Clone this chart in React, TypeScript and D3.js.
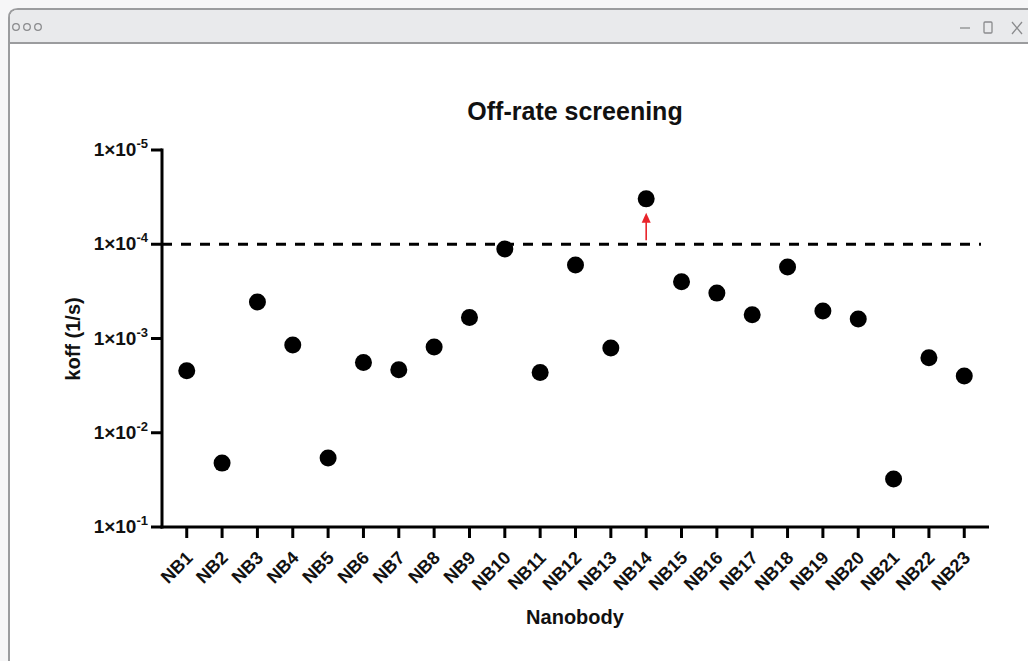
import React from "react";
import * as d3 from "d3";

const categories = ["NB1","NB2","NB3","NB4","NB5","NB6","NB7","NB8","NB9","NB10","NB11","NB12","NB13","NB14","NB15","NB16","NB17","NB18","NB19","NB20","NB21","NB22","NB23"];
const koffValues = [2.2e-3, 2.1e-2, 4.1e-4, 1.17e-3, 1.85e-2, 1.8e-3, 2.15e-3, 1.23e-3, 6.0e-4, 1.12e-4, 2.3e-3, 1.66e-4, 1.26e-3, 3.3e-5, 2.5e-4, 3.3e-4, 5.6e-4, 1.74e-4, 5.1e-4, 6.2e-4, 3.1e-2, 1.6e-3, 2.5e-3];
const yTickExps = [-5, -4, -3, -2, -1];
const thresholdValue = 1e-4;
const highlighted = "NB14";

const FONT = "'Liberation Sans', Arial, Helvetica, sans-serif";

export default function App() {
  const W = 1028, H = 661;
  const left = 162, right = 989, top = 150, bottom = 527;
  const x = d3.scalePoint<string>().domain(categories).range([left, right]).padding(0.7);
  const y = d3.scaleLog().domain([1e-5, 1e-1]).range([top, bottom]);
  const hx = x(highlighted)!;
  const hy = y(koffValues[categories.indexOf(highlighted)]);

  return (
    <svg width={W} height={H} style={{ position: "absolute", left: 0, top: 0, background: "#fff" }}>
      {/* window chrome */}
      <rect x={0} y={0} width={W} height={H} fill="#f6f6f7" />
      <path d={`M9,${H + 5} L9,18 Q9,9 18,9 L${W + 5},9 L${W + 5},${H + 5} Z`} fill="#fff" stroke="#9b9c9e" strokeWidth={2} />
      <path d={`M10,43 L10,18 Q10,10 18,10 L${W + 5},10 L${W + 5},43 Z`} fill="#e9eaec" />
      <line x1={9} x2={W} y1={43} y2={43} stroke="#9b9c9e" strokeWidth={2} />
      {[16, 27, 38].map((cx) => (
        <circle key={cx} cx={cx} cy={27} r={3.3} fill="none" stroke="#8a8b8d" strokeWidth={1.3} />
      ))}
      <line x1={960} x2={970} y1={28} y2={28} stroke="#8a8b8d" strokeWidth={1.3} />
      <rect x={984} y={22} width={8} height={11} rx={1} fill="none" stroke="#8a8b8d" strokeWidth={1.3} />
      <path d="M1012,22 L1022,34 M1022,22 L1012,34" stroke="#8a8b8d" strokeWidth={1.3} />

      {/* title */}
      <text x={575} y={120} textAnchor="middle" fontFamily={FONT} fontWeight="bold" fontSize={25} fill="#111">Off-rate screening</text>

      {/* threshold dashed line */}
      <line x1={left} x2={right - 8} y1={y(thresholdValue)} y2={y(thresholdValue)} stroke="#000" strokeWidth={3} strokeDasharray="10 9" />

      {/* axes */}
      <line x1={left} x2={left} y1={top - 1.5} y2={bottom + 1.5} stroke="#000" strokeWidth={3} />
      <line x1={left - 1.5} x2={right} y1={bottom} y2={bottom} stroke="#000" strokeWidth={3} />
      {yTickExps.map((e) => {
        const ty = y(Math.pow(10, e));
        return (
          <g key={e}>
            <line x1={left - 11} x2={left} y1={ty} y2={ty} stroke="#000" strokeWidth={3} />
            <text x={left - 14} y={ty + 6} textAnchor="end" fontFamily={FONT} fontWeight="bold" fontSize={19} fill="#111">
              1×10<tspan dy={-8} fontSize={13}>{String(e)}</tspan>
            </text>
          </g>
        );
      })}
      {categories.map((c) => {
        const tx = x(c)!;
        return (
          <g key={c}>
            <line x1={tx} x2={tx} y1={bottom} y2={bottom + 11} stroke="#000" strokeWidth={3} />
            <text transform={`translate(${tx + 7},${bottom + 32}) rotate(-45)`} textAnchor="end" fontFamily={FONT} fontWeight="bold" fontSize={18} fill="#111">{c}</text>
          </g>
        );
      })}

      {/* axis labels */}
      <text x={575} y={624} textAnchor="middle" fontFamily={FONT} fontWeight="bold" fontSize={20} fill="#111">Nanobody</text>
      <text transform={`translate(80,339) rotate(-90)`} textAnchor="middle" fontFamily={FONT} fontWeight="bold" fontSize={20} fill="#111">koff (1/s)</text>

      {/* points */}
      {categories.map((c, i) => (
        <circle key={c} cx={x(c)!} cy={y(koffValues[i])} r={8.5} fill="#000" />
      ))}

      {/* red arrow */}
      <line x1={hx} x2={hx} y1={y(thresholdValue) - 4} y2={hy + 22} stroke="#e8232a" strokeWidth={1.6} />
      <path d={`M${hx - 4.5},${hy + 24} L${hx + 4.5},${hy + 24} L${hx},${hy + 14} Z`} fill="#e8232a" />
    </svg>
  );
}
